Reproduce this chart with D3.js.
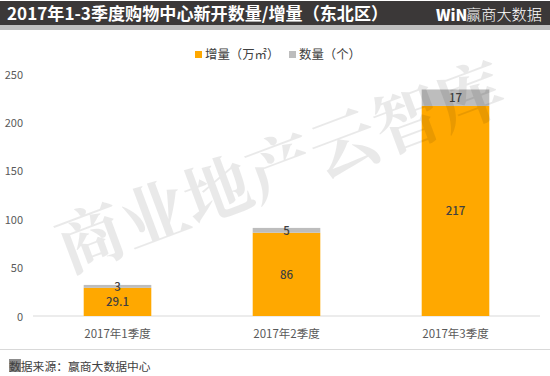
<!DOCTYPE html>
<html><head><meta charset="utf-8">
<script src="https://cdn.jsdelivr.net/npm/d3@7"></script>
<style>html,body{margin:0;padding:0;background:#fff}svg{display:block}text{font-family:"Noto Sans CJK SC","Noto Sans",sans-serif}</style>
</head><body><svg id="c" width="550" height="376"></svg>
<script>
const quarters=["2017年1季度","2017年2季度","2017年3季度"];
const increment=[29.1,86,217];
const counts=[3,5,17];
const seriesNames=["增量（万㎡）","数量（个）"];
const yTicks=[0,50,100,150,200,250];
const svg=d3.select("#c");
const x=d3.scaleBand().domain(quarters).range([33,540]).paddingInner(0.6).paddingOuter(0.3);
const y=d3.scaleLinear().domain([0,250]).range([316,74]);
const orange="#ffa800",grey="#bdbdbd",txt="#595959";
// header
svg.append("rect").attr("x",0).attr("y",1).attr("width",550).attr("height",24).attr("fill","#3b3838");
svg.append("rect").attr("x",0).attr("y",25).attr("width",550).attr("height",5).attr("fill","#bfbfbf");
svg.append("text").attr("x",7).attr("y",20).attr("fill","#fff").attr("font-size",17.1).attr("font-weight",700).text("2017年1-3季度购物中心新开数量/增量（东北区）");
svg.append("text").attr("x",436).attr("y",21).attr("fill","#fff").attr("font-size",15.5).attr("font-weight",900).attr("font-family","Liberation Sans").text("WiN");
svg.append("text").attr("x",466).attr("y",20).attr("fill","#fff").attr("font-size",15.2).attr("font-weight",300).text("赢商大数据");
// legend
const lg=[[195,orange,seriesNames[0]],[289,grey,seriesNames[1]]];
lg.forEach(d=>{
 svg.append("rect").attr("x",d[0]).attr("y",51).attr("width",7).attr("height",7).attr("fill",d[1]);
 svg.append("text").attr("x",d[0]+10).attr("y",59).attr("fill","#404040").attr("font-size",12.4).text(d[2]);
});
// y labels
svg.selectAll(".yl").data(yTicks).join("text").attr("x",23).attr("y",d=>y(d)+4.5).attr("text-anchor","end").attr("fill",txt).attr("font-size",11).text(d=>d);
// baseline
svg.append("line").attr("x1",33).attr("x2",540).attr("y1",316).attr("y2",316).attr("stroke","#d9d9d9").attr("stroke-width",1);
// bars
svg.selectAll(".b1").data(quarters).join("rect").attr("x",d=>x(d)).attr("width",x.bandwidth()).attr("y",(d,i)=>y(increment[i])).attr("height",(d,i)=>y(0)-y(increment[i])).attr("fill",orange);
svg.selectAll(".b2").data(quarters).join("rect").attr("x",d=>x(d)).attr("width",x.bandwidth()).attr("y",(d,i)=>y(increment[i]+counts[i])).attr("height",(d,i)=>y(0)-y(counts[i])).attr("fill",grey);
// value labels
svg.selectAll(".v1").data(quarters).join("text").attr("x",d=>x(d)+x.bandwidth()/2).attr("y",(d,i)=>(y(increment[i])+y(0))/2+4.5).attr("text-anchor","middle").attr("fill","#404040").attr("font-size",11.5).attr("font-weight",500).text((d,i)=>increment[i]);
svg.selectAll(".v2").data(quarters).join("text").attr("x",d=>x(d)+x.bandwidth()/2).attr("y",(d,i)=>y(increment[i]+counts[i]/2)+4.5).attr("text-anchor","middle").attr("fill","#404040").attr("font-size",11.5).attr("font-weight",500).text((d,i)=>counts[i]);
// x labels
svg.selectAll(".xl").data(quarters).join("text").attr("x",d=>x(d)+x.bandwidth()/2).attr("y",338).attr("text-anchor","middle").attr("fill",txt).attr("font-size",11.5).text(d=>d);
// footer
svg.append("line").attr("x1",0).attr("x2",550).attr("y1",349.5).attr("y2",349.5).attr("stroke","#d9d9d9");
svg.append("rect").attr("x",9).attr("y",359).attr("width",12).attr("height",13).attr("fill","#8c8c8c");
svg.append("text").attr("x",9).attr("y",371).attr("fill","#404040").attr("font-size",11.8).text("数据来源：赢商大数据中心");
// watermark
svg.append("text").attr("transform","translate(68,273) rotate(-20.5)").attr("fill","#000").attr("fill-opacity",0.085).attr("font-size",67.5).attr("font-weight",700).attr("style","font-family:'Noto Serif CJK SC','Noto Sans CJK SC'").text("商业地产云智库");
</script></body></html>
